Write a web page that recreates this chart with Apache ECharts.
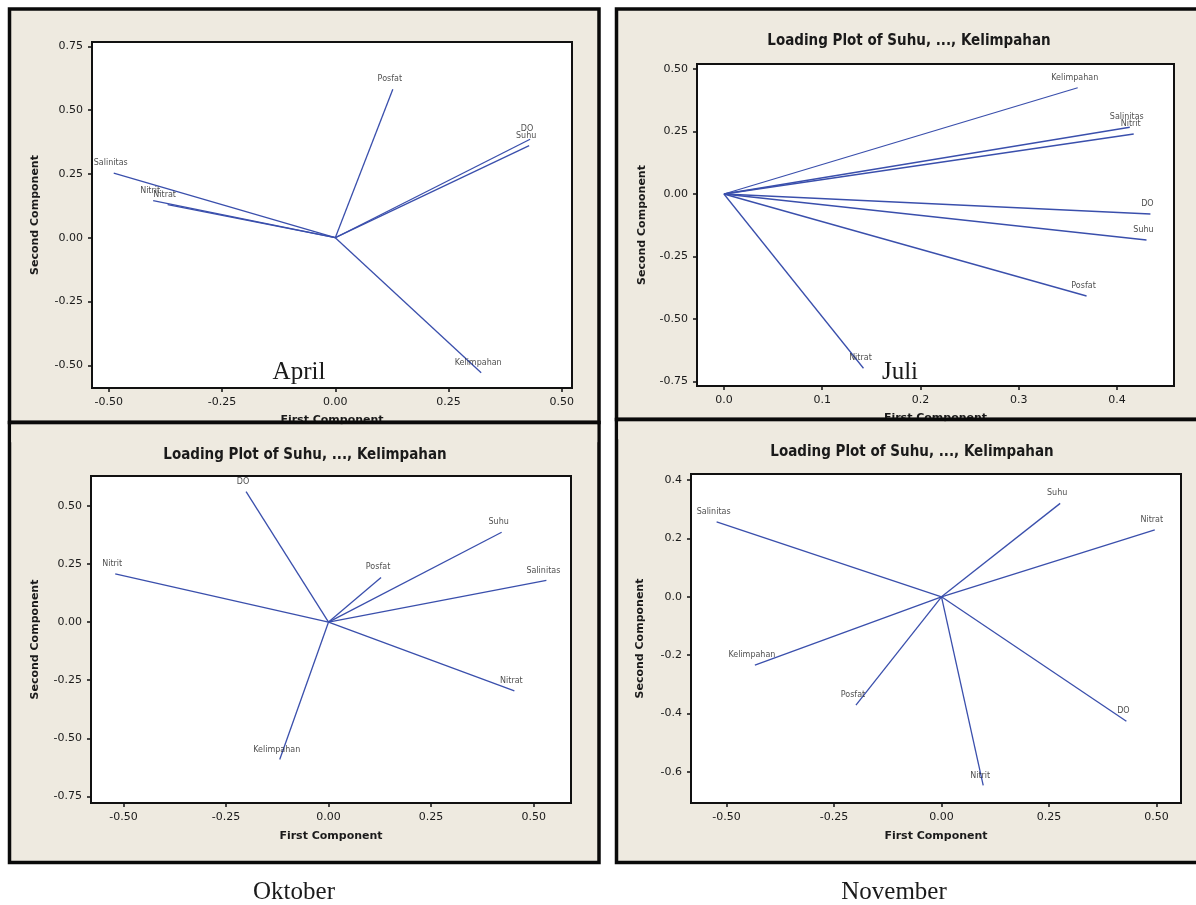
<!DOCTYPE html>
<html><head><meta charset="utf-8">
<script src="https://cdn.jsdelivr.net/npm/echarts@6/dist/echarts.min.js"></script>
<style>html,body{margin:0;padding:0;background:#fff}#c{width:1196px;height:905px}</style>
</head><body><div id="c"></div>
<script>
// ---- data (loadings) ----
const variables = ['Suhu', 'Salinitas', 'DO', 'Nitrat', 'Nitrit', 'Posfat', 'Kelimpahan'];

const aprilPC1 = [0.428, -0.489, 0.430, -0.370, -0.402, 0.127, 0.322];
const aprilPC2 = [0.361, 0.253, 0.386, 0.130, 0.145, 0.582, -0.529];

const juliPC1 = [0.430, 0.413, 0.434, 0.142, 0.417, 0.369, 0.360];
const juliPC2 = [-0.184, 0.267, -0.080, -0.697, 0.240, -0.408, 0.425];

const oktoberPC1 = [0.422, 0.531, -0.201, 0.453, -0.520, 0.128, -0.119];
const oktoberPC2 = [0.386, 0.179, 0.561, -0.296, 0.207, 0.192, -0.591];

const novemberPC1 = [0.276, -0.523, 0.430, 0.496, 0.097, -0.199, -0.434];
const novemberPC2 = [0.320, 0.257, -0.426, 0.229, -0.646, -0.371, -0.234];

const months = ['April', 'Juli', 'Oktober', 'November'];
const plotTitle = 'Loading Plot of Suhu, ..., Kelimpahan';
const xAxisTitle = 'First Component';
const yAxisTitle = 'Second Component';

const aprilXTicks = [-0.5, -0.25, 0, 0.25, 0.5];
const aprilYTicks = [-0.5, -0.25, 0, 0.25, 0.5, 0.75];
const juliXTicks = [0, 0.1, 0.2, 0.3, 0.4];
const juliYTicks = [-0.75, -0.5, -0.25, 0, 0.25, 0.5];
const oktoberXTicks = [-0.5, -0.25, 0, 0.25, 0.5];
const oktoberYTicks = [-0.75, -0.5, -0.25, 0, 0.25, 0.5];
const novemberXTicks = [-0.5, -0.25, 0, 0.25, 0.5];
const novemberYTicks = [-0.6, -0.4, -0.2, 0, 0.2, 0.4];

// ---- layout ----
const panels = [
  {pc1: aprilPC1, pc2: aprilPC2, grid: {left: 92, top: 42, width: 480, height: 346},
   x: {min: -0.537, max: 0.5225, ticks: aprilXTicks, dec: 2, gap: 27},
   y: {min: -0.589, max: 0.767, ticks: aprilYTicks, dec: 2, gap: 51}},
  {pc1: juliPC1, pc2: juliPC2, grid: {left: 697, top: 64, width: 477, height: 322},
   x: {min: -0.0274, max: 0.458, ticks: juliXTicks, dec: 1, gap: 27},
   y: {min: -0.768, max: 0.52, ticks: juliYTicks, dec: 2, gap: 49}},
  {pc1: oktoberPC1, pc2: oktoberPC2, grid: {left: 91, top: 476, width: 480, height: 327},
   x: {min: -0.579, max: 0.591, ticks: oktoberXTicks, dec: 2, gap: 28},
   y: {min: -0.778, max: 0.628, ticks: oktoberYTicks, dec: 2, gap: 50}},
  {pc1: novemberPC1, pc2: novemberPC2, grid: {left: 691, top: 474, width: 490, height: 329},
   x: {min: -0.5826, max: 0.557, ticks: novemberXTicks, dec: 2, gap: 28},
   y: {min: -0.706, max: 0.4206, ticks: novemberYTicks, dec: 1, gap: 45}}
];

const BEIGE = '#eeeae0';
const LINE = '#3a4fac';
const INK = '#1a1a1a';

const grids = [], xAxes = [], yAxes = [], series = [];
panels.forEach((p, i) => {
  grids.push(Object.assign({show: true, backgroundColor: '#fff', borderColor: '#111', borderWidth: 2}, p.grid));
  const mkAxis = (a, isX) => ({
    gridIndex: i, type: 'value', min: a.min, max: a.max,
    splitLine: {show: false},
    axisLine: {show: true, onZero: false, lineStyle: {color: '#111', width: 2}},
    axisTick: {show: true, inside: false, length: 4, customValues: a.ticks, lineStyle: {color: '#111', width: 1.5}},
    axisLabel: {customValues: a.ticks, formatter: v => v.toFixed(a.dec), color: INK, fontSize: 11,
      fontFamily: 'DejaVu Sans', margin: 9},
    name: isX ? xAxisTitle : yAxisTitle, nameLocation: 'middle', nameGap: a.gap,
    nameTextStyle: {fontWeight: 'bold', fontSize: 11, color: INK, fontFamily: 'DejaVu Sans'}
  });
  xAxes.push(mkAxis(p.x, true));
  yAxes.push(mkAxis(p.y, false));
  variables.forEach((v, k) => {
    series.push({type: 'line', name: months[i] + ' ' + v, xAxisIndex: i, yAxisIndex: i,
      data: [[0, 0], [p.pc1[k], p.pc2[k]]], symbol: 'none', showSymbol: false, silent: true,
      lineStyle: {color: LINE, width: 1.3}, z: 3});
  });
  series.push({type: 'scatter', xAxisIndex: i, yAxisIndex: i, symbolSize: 0, silent: true, z: 4,
    data: variables.map((v, k) => ({name: v, value: [p.pc1[k], p.pc2[k]]})),
    label: {show: true, position: 'top', distance: 6, offset: [-3, 0], formatter: '{b}',
      fontSize: 8, color: '#222', fontFamily: 'DejaVu Sans'}});
});

const frame = (x, y, w, h) => ({type: 'rect', z: -10, shape: {x, y, width: w, height: h},
  style: {fill: BEIGE, stroke: '#0a0a0a', lineWidth: 3.5}});
const txt = (text, x, y, font) => ({type: 'text', z: 100, style: {text, x, y, align: 'center',
  verticalAlign: 'middle', font, fill: INK}});
const titleFont = 'bold 15px "DejaVu Sans Condensed", "DejaVu Sans"';
const monthFont = '25px "Liberation Serif", serif';

const graphic = [
  frame(9.5, 9, 589.5, 413.5),
  frame(616.5, 9, 600, 410.5),
  frame(9.5, 422.5, 589.5, 440),
  frame(616.5, 419.5, 600, 443),
  // the lower panels' top band hides the lower half of the upper x-axis titles
  {type: 'rect', z: 100, shape: {x: 11.25, y: 424.2, width: 586, height: 18}, style: {fill: BEIGE}},
  {type: 'line', z: 101, shape: {x1: 9.5, y1: 422.5, x2: 599, y2: 422.5}, style: {stroke: '#0a0a0a', lineWidth: 3.5}},
  {type: 'rect', z: 100, shape: {x: 618.25, y: 421.2, width: 600, height: 18}, style: {fill: BEIGE}},
  {type: 'line', z: 101, shape: {x1: 616.5, y1: 419.5, x2: 1200, y2: 419.5}, style: {stroke: '#0a0a0a', lineWidth: 3.5}},
  txt(plotTitle, 909, 41, titleFont),
  txt(plotTitle, 305, 455, titleFont),
  txt(plotTitle, 912, 452, titleFont),
  txt(months[0], 299, 372, monthFont),
  txt(months[1], 900, 372, monthFont),
  txt(months[2], 294, 892, monthFont),
  txt(months[3], 894, 892, monthFont)
];

const chart = echarts.init(document.getElementById('c'), null, {renderer: 'canvas'});
chart.setOption({animation: false, backgroundColor: '#fff', grid: grids, xAxis: xAxes, yAxis: yAxes,
  series, graphic});
</script></body></html>
